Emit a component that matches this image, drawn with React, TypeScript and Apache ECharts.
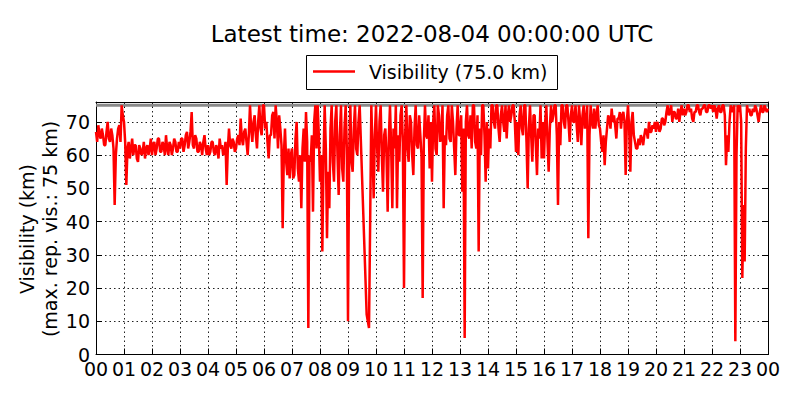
import React, { useEffect, useRef } from "react";
import * as echarts from "echarts";

// Visibility (km), one value every 2.5 minutes, per hour of the day (UTC)
const VIS_00 = [67, 64, 69, 66, 65, 68, 66, 63, 63, 67, 70, 65, 64, 68, 66, 62, 45, 60, 65, 68, 69, 64, 75, 72];
const VIS_01 = [70, 64, 51, 62, 64, 59, 62, 65, 60, 63, 63, 59, 58, 63, 62, 60, 61, 64, 59, 62, 63, 60, 62, 65];
const VIS_02 = [60, 63, 64, 60, 62, 65, 65, 61, 61, 64, 63, 60, 66, 62, 60, 64, 63, 60, 62, 65, 64, 61, 61, 64];
const VIS_03 = [62, 65, 65, 61, 63, 66, 67, 62, 64, 67, 73, 63, 62, 66, 65, 61, 61, 64, 63, 60, 64, 66, 62, 60];
const VIS_04 = [63, 60, 61, 64, 64, 61, 60, 63, 62, 59, 65, 62, 63, 60, 61, 64, 51, 62, 68, 63, 62, 65, 64, 61];
const VIS_05 = [62, 65, 66, 63, 71, 65, 63, 67, 68, 64, 60, 66, 75, 68, 64, 70, 72, 66, 62, 70, 75, 68, 66, 75];
const VIS_06 = [75, 68, 70, 64, 59, 66, 66, 72, 73, 65, 75, 70, 62, 72, 68, 63, 38, 60, 68, 58, 54, 62, 53, 60];
const VIS_07 = [62, 53, 54, 65, 70, 56, 52, 60, 44, 62, 68, 58, 73, 64, 8, 60, 58, 66, 43, 70, 75, 62, 75, 66];
const VIS_08 = [52, 60, 31, 58, 75, 62, 35, 55, 44, 68, 75, 58, 52, 70, 75, 60, 48, 66, 75, 56, 52, 68, 75, 62];
const VIS_09 = [10, 60, 75, 58, 55, 68, 75, 62, 60, 70, 75, null, null, null, null, null, 12, 10, 8, 40, 75, 62, 47, 66];
const VIS_10 = [75, 62, 55, 70, 75, 60, 49, 66, 68, 60, 43, 65, 75, 62, 44, 68, 62, 75, 44, 66, 58, 72, 75, 64];
const VIS_11 = [20, 66, 75, 62, 58, 72, 70, 60, 54, 68, 75, 63, 62, 72, 66, 60, 17, 64, 75, 66, 65, 72, 56, 70];
const VIS_12 = [52, 70, 75, 62, 60, 75, 72, 64, 66, 75, 44, 66, 63, 72, 75, 65, 64, 75, 70, 62, 54, 68, 75, 66];
const VIS_13 = [66, 72, 49, 68, 5, 70, 75, 66, 65, 72, 62, 75, 75, 64, 62, 72, 31, 68, 60, 75, 75, 66, 52, 70];
const VIS_14 = [56, 68, 62, 75, 75, 70, 68, 75, 75, 68, 64, 72, 75, 70, 67, 75, 65, 72, 75, 70, 72, 75, 75, 70];
const VIS_15 = [61, 70, 60, 72, 75, 68, 66, 75, 75, 64, 50, 68, 75, 66, 58, 72, 72, 63, 54, 68, 65, 75, 59, 70];
const VIS_16 = [59, 70, 75, 64, 55, 68, 75, 70, 72, 75, 75, 66, 45, 70, 63, 75, 75, 70, 68, 75, 75, 70, 64, 72];
const VIS_17 = [75, 70, 70, 75, 69, 64, 75, 70, 63, 72, 75, 68, 70, 75, 35, 66, 75, 70, 68, 74, 68, 72, 75, 69];
const VIS_18 = [68, 64, 61, 66, 57, 64, 68, 72, 71, 68, 74, 70, 72, 69, 65, 71, 71, 73, 68, 72, 73, 70, 54, 70];
const VIS_19 = [75, 68, 55, 70, 73, 66, 64, 62, 62, 65, 63, 66, 65, 63, 66, 68, 67, 65, 70, 67, 67, 69, 68, 70];
const VIS_20 = [67, 70, 69, 67, 68, 71, 71, 69, 70, 73, 75, 72, 73, 75, 70, 73, 73, 71, 71, 74, 70, 73, 75, 72];
const VIS_21 = [74, 72, 73, 75, 75, 73, 74, 71, 70, 73, 73, 75, 75, 73, 72, 74, 74, 75, 75, 73, 73, 75, 75, 74];
const VIS_22 = [75, 73, 75, 74, 71, 74, 75, 73, 73, 75, 75, 72, 57, 66, 61, 70, 75, 73, 74, 75, 4, 60, 75, 73];
const VIS_23 = [75, 70, 23, 45, 28, 62, 75, 73, 74, 72, 72, 74, 73, 75, 74, 72, 70, 73, 75, 73, 73, 75, 74, 73];
const VIS_END = [74];

const MAX_REPORTED_VIS = 75;
const STEP_MINUTES = 2.5;
const Y_TICKS = [0, 10, 20, 30, 40, 50, 60, 70];
const HOUR_TICKS = Array.from({ length: 25 }, (_, i) => i);

const TITLE = "Latest time: 2022-08-04 00:00:00 UTC";
const LEGEND_LABEL = "Visibility (75.0 km)";
const Y_LABEL_1 = "Visibility (km)";
const Y_LABEL_2 = "(max. rep. vis.: 75 km)";

const FONT = "DejaVu Sans";

export default function App() {
  const ref = useRef<HTMLDivElement>(null);

  useEffect(() => {
    if (!ref.current) return;
    const chart = echarts.init(ref.current, null, { renderer: "svg" });

    const all = [
      ...VIS_00, ...VIS_01, ...VIS_02, ...VIS_03, ...VIS_04, ...VIS_05,
      ...VIS_06, ...VIS_07, ...VIS_08, ...VIS_09, ...VIS_10, ...VIS_11,
      ...VIS_12, ...VIS_13, ...VIS_14, ...VIS_15, ...VIS_16, ...VIS_17,
      ...VIS_18, ...VIS_19, ...VIS_20, ...VIS_21, ...VIS_22, ...VIS_23,
      ...VIS_END,
    ];
    const data = all.map((v, i) => [(i * STEP_MINUTES) / 60, v]);

    const pad = (v: number) => String(Math.round(v) % 24).padStart(2, "0");
    const gridDotted = { show: true, lineStyle: { color: "#222", width: 1, type: [1.5, 3] as any } };

    chart.setOption({
      animation: false,
      backgroundColor: "#fff",
      textStyle: { fontFamily: FONT },
      grid: { left: 96, right: 32, top: 102, bottom: 45.5, containLabel: false },
      xAxis: [
        {
          type: "value",
          min: HOUR_TICKS[0],
          max: HOUR_TICKS[HOUR_TICKS.length - 1],
          interval: 1,
          position: "bottom",
          axisLine: { show: true, onZero: false, lineStyle: { color: "#000", width: 1 } },
          axisTick: { show: true, inside: true, length: 6, lineStyle: { color: "#000" } },
          axisLabel: { color: "#000", fontSize: 19, fontFamily: FONT, margin: 5, formatter: pad },
          splitLine: gridDotted,
        },
        {
          type: "value",
          min: HOUR_TICKS[0],
          max: HOUR_TICKS[HOUR_TICKS.length - 1],
          interval: 1,
          position: "top",
          axisLine: { show: true, onZero: false, lineStyle: { color: "#000", width: 1 } },
          axisTick: { show: true, inside: true, length: 6, lineStyle: { color: "#000" } },
          axisLabel: { show: false },
          splitLine: { show: false },
        },
      ],
      yAxis: [
        {
          type: "value",
          min: 0,
          max: 76,
          interval: 10,
          position: "left",
          axisLine: { show: true, onZero: false, lineStyle: { color: "#000", width: 1 } },
          axisTick: { show: true, inside: true, length: 6, lineStyle: { color: "#000" } },
          axisLabel: {
            color: "#000",
            fontSize: 19,
            fontFamily: FONT,
            margin: 6,
            formatter: (v: number) => (Y_TICKS.includes(v) ? String(v) : ""),
          },
          splitLine: gridDotted,
        },
        {
          type: "value",
          min: 0,
          max: 76,
          interval: 10,
          position: "right",
          axisLine: { show: true, onZero: false, lineStyle: { color: "#000", width: 1 } },
          axisTick: { show: true, inside: true, length: 6, lineStyle: { color: "#000" } },
          axisLabel: { show: false },
          splitLine: { show: false },
        },
      ],
      series: [
        {
          name: "max",
          type: "line",
          xAxisIndex: 0,
          yAxisIndex: 0,
          data: [[0, MAX_REPORTED_VIS], [24, MAX_REPORTED_VIS]],
          symbol: "none",
          silent: true,
          lineStyle: { color: "#8a8a8a", width: 3 },
        },
        {
          name: LEGEND_LABEL,
          type: "line",
          xAxisIndex: 0,
          yAxisIndex: 0,
          data,
          symbol: "none",
          connectNulls: true,
          lineStyle: { color: "#ff0000", width: 2.5 },
        },
      ],
      graphic: [
        {
          type: "text",
          x: 432,
          y: 34,
          style: {
            text: TITLE,
            fontFamily: FONT,
            fontSize: 23,
            fill: "#000",
            align: "center",
            verticalAlign: "middle",
          },
        },
        {
          type: "rect",
          shape: { x: 306.5, y: 55.5, width: 251, height: 34 },
          style: { fill: "#fff", stroke: "#000", lineWidth: 1 },
        },
        {
          type: "line",
          shape: { x1: 313, y1: 71.5, x2: 355, y2: 71.5 },
          style: { stroke: "#ff0000", lineWidth: 2.5 },
        },
        {
          type: "text",
          x: 369,
          y: 72,
          style: {
            text: LEGEND_LABEL,
            fontFamily: FONT,
            fontSize: 19,
            fill: "#000",
            align: "left",
            verticalAlign: "middle",
          },
        },
        {
          type: "text",
          x: 27,
          y: 229,
          rotation: Math.PI / 2,
          style: {
            text: Y_LABEL_1,
            fontFamily: FONT,
            fontSize: 19,
            fill: "#000",
            align: "center",
            verticalAlign: "middle",
          },
        },
        {
          type: "text",
          x: 50,
          y: 229,
          rotation: Math.PI / 2,
          style: {
            text: Y_LABEL_2,
            fontFamily: FONT,
            fontSize: 19,
            fill: "#000",
            align: "center",
            verticalAlign: "middle",
          },
        },
      ],
    });

    return () => chart.dispose();
  }, []);

  return <div ref={ref} style={{ width: 800, height: 400, position: "absolute", left: 0, top: 0 }} />;
}
